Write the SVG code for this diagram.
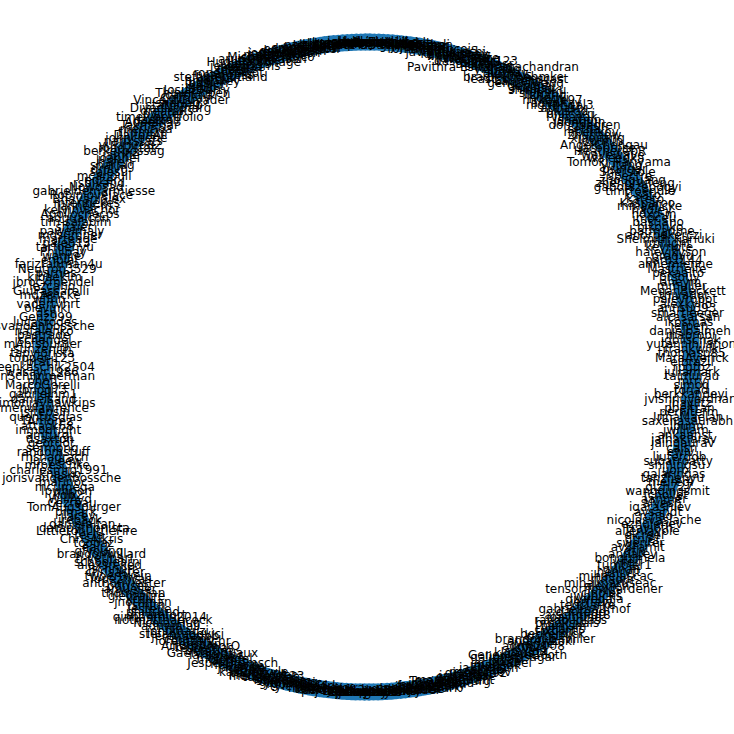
<svg xmlns="http://www.w3.org/2000/svg" width="734" height="734" viewBox="0 0 734 734">
<style>
text{font-family:"DejaVu Sans",sans-serif;font-size:12px;text-anchor:middle;dominant-baseline:central;fill:#000}
</style>
<rect width="734" height="734" fill="#fff"/>
<g id="connectors"></g>
<g id="node-markers">
<circle cx="367" cy="367" r="325" fill="none" stroke="#1f77b4" stroke-width="17.3" stroke-dasharray="0 4.5379" stroke-linecap="round"/>
</g>
<g id="nodes" transform="translate(367 367)">
<text id="n0" transform="rotate(0)translate(325)rotate(0)">rpgtoz</text>
<text id="n1" transform="rotate(-0.8)translate(325)rotate(0.8)">elbrazil</text>
<text id="n2" transform="rotate(-1.6)translate(325)rotate(1.6)">MaraAverick</text>
<text id="n3" transform="rotate(-2.4)translate(325)rotate(2.4)">thomasp85</text>
<text id="n4" transform="rotate(-3.2)translate(325)rotate(3.2)">frankwilk</text>
<text id="n5" transform="rotate(-4)translate(325)rotate(4)">yutannihilation</text>
<text id="n6" transform="rotate(-4.8)translate(325)rotate(4.8)">jdblischak</text>
<text id="n7" transform="rotate(-5.6)translate(325)rotate(5.6)">mabrobi</text>
<text id="n8" transform="rotate(-6.4)translate(325)rotate(6.4)">danielbalmeh</text>
<text id="n9" transform="rotate(-7.2)translate(325)rotate(7.2)">jeroen</text>
<text id="n10" transform="rotate(-8)translate(325)rotate(8)">ikosmas</text>
<text id="n11" transform="rotate(-8.8)translate(325)rotate(8.8)">alcasarsan</text>
<text id="n12" transform="rotate(-9.6)translate(325)rotate(9.6)">smartleeger</text>
<text id="n13" transform="rotate(-10.4)translate(325)rotate(10.4)">annsu393</text>
<text id="n14" transform="rotate(-11.2)translate(325)rotate(11.2)">alexkyllo</text>
<text id="n15" transform="rotate(-12)translate(325)rotate(12)">palevrobot</text>
<text id="n16" transform="rotate(-12.8)translate(325)rotate(12.8)">thivadot</text>
<text id="n17" transform="rotate(-13.6)translate(325)rotate(13.6)">MeganBeckett</text>
<text id="n18" transform="rotate(-14.4)translate(325)rotate(14.4)">mmuller</text>
<text id="n19" transform="rotate(-15.2)translate(325)rotate(15.2)">aheym</text>
<text id="n20" transform="rotate(-16)translate(325)rotate(16)">prsouy</text>
<text id="n21" transform="rotate(-16.8)translate(325)rotate(16.8)">pekaalto</text>
<text id="n22" transform="rotate(-17.6)translate(325)rotate(17.6)">Mastrielfe</text>
<text id="n23" transform="rotate(-18.4)translate(325)rotate(18.4)">annemienne</text>
<text id="n24" transform="rotate(-19.2)translate(325)rotate(19.2)">paru1144</text>
<text id="n25" transform="rotate(-20)translate(325)rotate(20)">pradyu</text>
<text id="n26" transform="rotate(-20.8)translate(325)rotate(20.8)">haleyjkyson</text>
<text id="n27" transform="rotate(-21.6)translate(325)rotate(21.6)">keynote</text>
<text id="n28" transform="rotate(-22.4)translate(325)rotate(22.4)">rmflight</text>
<text id="n29" transform="rotate(-23.2)translate(325)rotate(23.2)">Shelmith Kariuki</text>
<text id="n30" transform="rotate(-24)translate(325)rotate(24)">anorpekerczi</text>
<text id="n31" transform="rotate(-24.8)translate(325)rotate(24.8)">batmadme</text>
<text id="n32" transform="rotate(-25.6)translate(325)rotate(25.6)">bikonko</text>
<text id="n33" transform="rotate(-26.4)translate(325)rotate(26.4)">bastiano</text>
<text id="n34" transform="rotate(-27.2)translate(325)rotate(27.2)">moceu</text>
<text id="n35" transform="rotate(-28)translate(325)rotate(28)">hoxo-m</text>
<text id="n36" transform="rotate(-28.8)translate(325)rotate(28.8)">hadley</text>
<text id="n37" transform="rotate(-29.6)translate(325)rotate(29.6)">mmaelicke</text>
<text id="n38" transform="rotate(-30.4)translate(325)rotate(30.4)">Kasparoo</text>
<text id="n39" transform="rotate(-31.2)translate(325)rotate(31.2)">kateto</text>
<text id="n40" transform="rotate(-32)translate(325)rotate(32)">k-sato</text>
<text id="n41" transform="rotate(-32.8)translate(325)rotate(32.8)">timtroendle</text>
<text id="n42" transform="rotate(-33.6)translate(325)rotate(33.6)">gaborszepogyi</text>
<text id="n43" transform="rotate(-34.4)translate(325)rotate(34.4)">zhengruifeng</text>
<text id="n44" transform="rotate(-35.2)translate(325)rotate(35.2)">zhouguang</text>
<text id="n45" transform="rotate(-36)translate(325)rotate(36)">spectre</text>
<text id="n46" transform="rotate(-36.8)translate(325)rotate(36.8)">Sherstole</text>
<text id="n47" transform="rotate(-37.6)translate(325)rotate(37.6)">psinger</text>
<text id="n48" transform="rotate(-38.4)translate(325)rotate(38.4)">yutang</text>
<text id="n49" transform="rotate(-39.2)translate(325)rotate(39.2)">Tomoki Hariyama</text>
<text id="n50" transform="rotate(-40)translate(325)rotate(40)">waleedka</text>
<text id="n51" transform="rotate(-40.8)translate(325)rotate(40.8)">wavewave</text>
<text id="n52" transform="rotate(-41.6)translate(325)rotate(41.6)">HeatherCbR</text>
<text id="n53" transform="rotate(-42.4)translate(325)rotate(42.4)">jacobrose</text>
<text id="n54" transform="rotate(-43.2)translate(325)rotate(43.2)">AngelChengau</text>
<text id="n55" transform="rotate(-44)translate(325)rotate(44)">lopuhin</text>
<text id="n56" transform="rotate(-44.8)translate(325)rotate(44.8)">xiaojiang</text>
<text id="n57" transform="rotate(-45.6)translate(325)rotate(45.6)">zhuhaow</text>
<text id="n58" transform="rotate(-46.4)translate(325)rotate(46.4)">mpenkov</text>
<text id="n59" transform="rotate(-47.2)translate(325)rotate(47.2)">sethah</text>
<text id="n60" transform="rotate(-48)translate(325)rotate(48)">donghaoren</text>
<text id="n61" transform="rotate(-48.8)translate(325)rotate(48.8)">dongjun</text>
<text id="n62" transform="rotate(-49.6)translate(325)rotate(49.6)">jsnation</text>
<text id="n63" transform="rotate(-50.4)translate(325)rotate(50.4)">vinayak</text>
<text id="n64" transform="rotate(-51.2)translate(325)rotate(51.2)">philcarri</text>
<text id="n65" transform="rotate(-52)translate(325)rotate(52)">pluskid</text>
<text id="n66" transform="rotate(-52.8)translate(325)rotate(52.8)">abbaslx</text>
<text id="n67" transform="rotate(-53.6)translate(325)rotate(53.6)">nightingal3</text>
<text id="n68" transform="rotate(-54.4)translate(325)rotate(54.4)">advnkxy</text>
<text id="n69" transform="rotate(-55.2)translate(325)rotate(55.2)">mrkaye97</text>
<text id="n70" transform="rotate(-56)translate(325)rotate(56)">hongyi</text>
<text id="n71" transform="rotate(-56.8)translate(325)rotate(56.8)">lizhang</text>
<text id="n72" transform="rotate(-57.6)translate(325)rotate(57.6)">shinytu</text>
<text id="n73" transform="rotate(-58.4)translate(325)rotate(58.4)">shimpuku</text>
<text id="n74" transform="rotate(-59.2)translate(325)rotate(59.2)">niklasd</text>
<text id="n75" transform="rotate(-60)translate(325)rotate(60)">gengjia</text>
<text id="n76" transform="rotate(-60.8)translate(325)rotate(60.8)">gengjiawang</text>
<text id="n77" transform="rotate(-61.6)translate(325)rotate(61.6)">LaurentH</text>
<text id="n78" transform="rotate(-62.4)translate(325)rotate(62.4)">leastsquarescast</text>
<text id="n79" transform="rotate(-63.2)translate(325)rotate(63.2)">bradleyboehmke</text>
<text id="n80" transform="rotate(-64)translate(325)rotate(64)">jwijffels</text>
<text id="n81" transform="rotate(-64.8)translate(325)rotate(64.8)">tanmay</text>
<text id="n82" transform="rotate(-65.6)translate(325)rotate(65.6)">jinyu</text>
<text id="n83" transform="rotate(-66.4)translate(325)rotate(66.4)">ylzhang</text>
<text id="n84" transform="rotate(-67.2)translate(325)rotate(67.2)">Pavithra Eswaramachandran</text>
<text id="n85" transform="rotate(-68)translate(325)rotate(68)">sandrag</text>
<text id="n86" transform="rotate(-68.8)translate(325)rotate(68.8)">matthiasr</text>
<text id="n87" transform="rotate(-69.6)translate(325)rotate(69.6)">qiaoyu</text>
<text id="n88" transform="rotate(-70.4)translate(325)rotate(70.4)">dasguptar123</text>
<text id="n89" transform="rotate(-71.2)translate(325)rotate(71.2)">Weizhang</text>
<text id="n90" transform="rotate(-72)translate(325)rotate(72)">lunarwhite</text>
<text id="n91" transform="rotate(-72.8)translate(325)rotate(72.8)">jmbejara</text>
<text id="n92" transform="rotate(-73.6)translate(325)rotate(73.6)">ditandlesis</text>
<text id="n93" transform="rotate(-74.4)translate(325)rotate(74.4)">kevinushey</text>
<text id="n94" transform="rotate(-75.2)translate(325)rotate(75.2)">jjallaire</text>
<text id="n95" transform="rotate(-76)translate(325)rotate(76)">javierluraschi</text>
<text id="n96" transform="rotate(-76.8)translate(325)rotate(76.8)">yihui</text>
<text id="n97" transform="rotate(-77.6)translate(325)rotate(77.6)">cderv</text>
<text id="n98" transform="rotate(-78.4)translate(325)rotate(78.4)">romainfrancois</text>
<text id="n99" transform="rotate(-79.2)translate(325)rotate(79.2)">krlmlr</text>
<text id="n100" transform="rotate(-80)translate(325)rotate(80)">jennybc</text>
<text id="n101" transform="rotate(-80.8)translate(325)rotate(80.8)">jimhester</text>
<text id="n102" transform="rotate(-81.6)translate(325)rotate(81.6)">gaborcsardi</text>
<text id="n103" transform="rotate(-82.4)translate(325)rotate(82.4)">DavisVaughan</text>
<text id="n104" transform="rotate(-83.2)translate(325)rotate(83.2)">lionel-</text>
<text id="n105" transform="rotate(-84)translate(325)rotate(84)">topepo</text>
<text id="n106" transform="rotate(-84.8)translate(325)rotate(84.8)">juliasilge</text>
<text id="n107" transform="rotate(-85.6)translate(325)rotate(85.6)">EmilHvitfeldt</text>
<text id="n108" transform="rotate(-86.4)translate(325)rotate(86.4)">mine-cetinkaya</text>
<text id="n109" transform="rotate(-87.2)translate(325)rotate(87.2)">apreshill</text>
<text id="n110" transform="rotate(-88)translate(325)rotate(88)">batpigandme</text>
<text id="n111" transform="rotate(-88.8)translate(325)rotate(88.8)">dgrtwo</text>
<text id="n112" transform="rotate(-89.6)translate(325)rotate(89.6)">hrbrmstr</text>
<text id="n113" transform="rotate(-90.4)translate(325)rotate(90.4)">cpsievert</text>
<text id="n114" transform="rotate(-91.2)translate(325)rotate(91.2)">schloerke</text>
<text id="n115" transform="rotate(-92)translate(325)rotate(92)">wch</text>
<text id="n116" transform="rotate(-92.8)translate(325)rotate(92.8)">jcheng5</text>
<text id="n117" transform="rotate(-93.6)translate(325)rotate(93.6)">trestletech</text>
<text id="n118" transform="rotate(-94.4)translate(325)rotate(94.4)">yutannihil</text>
<text id="n119" transform="rotate(-95.2)translate(325)rotate(95.2)">karawoo</text>
<text id="n120" transform="rotate(-96)translate(325)rotate(96)">clauswilke</text>
<text id="n121" transform="rotate(-96.8)translate(325)rotate(96.8)">thomasp</text>
<text id="n122" transform="rotate(-97.6)translate(325)rotate(97.6)">teunbrand</text>
<text id="n123" transform="rotate(-98.4)translate(325)rotate(98.4)">paleolimbot</text>
<text id="n124" transform="rotate(-99.2)translate(325)rotate(99.2)">stragu</text>
<text id="n125" transform="rotate(-100)translate(325)rotate(100)">mikmart</text>
<text id="n126" transform="rotate(-100.8)translate(325)rotate(100.8)">smouksassi</text>
<text id="n127" transform="rotate(-101.6)translate(325)rotate(101.6)">eddelbuettel</text>
<text id="n128" transform="rotate(-102.4)translate(325)rotate(102.4)">coatless</text>
<text id="n129" transform="rotate(-103.2)translate(325)rotate(103.2)">davidpham</text>
<text id="n130" transform="rotate(-104)translate(325)rotate(104)">gvegayon</text>
<text id="n131" transform="rotate(-104.8)translate(325)rotate(104.8)">joshuaulrich</text>
<text id="n132" transform="rotate(-105.6)translate(325)rotate(105.6)">jangorecki</text>
<text id="n133" transform="rotate(-106.4)translate(325)rotate(106.4)">mattdowle</text>
<text id="n134" transform="rotate(-107.2)translate(325)rotate(107.2)">MichaelChirico</text>
<text id="n135" transform="rotate(-108)translate(325)rotate(108)">st-pasha</text>
<text id="n136" transform="rotate(-108.8)translate(325)rotate(108.8)">arunsrinivasan</text>
<text id="n137" transform="rotate(-109.6)translate(325)rotate(109.6)">tdhock</text>
<text id="n138" transform="rotate(-110.4)translate(325)rotate(110.4)">HughParsonage</text>
<text id="n139" transform="rotate(-111.2)translate(325)rotate(111.2)">ben519</text>
<text id="n140" transform="rotate(-112)translate(325)rotate(112)">jeroenooms</text>
<text id="n141" transform="rotate(-112.8)translate(325)rotate(112.8)">alegria</text>
<text id="n142" transform="rotate(-113.6)translate(325)rotate(113.6)">maelle</text>
<text id="n143" transform="rotate(-114.4)translate(325)rotate(114.4)">sckott</text>
<text id="n144" transform="rotate(-115.2)translate(325)rotate(115.2)">ropenscibot</text>
<text id="n145" transform="rotate(-116)translate(325)rotate(116)">noamross</text>
<text id="n146" transform="rotate(-116.8)translate(325)rotate(116.8)">stefaniebutland</text>
<text id="n147" transform="rotate(-117.6)translate(325)rotate(117.6)">karthik</text>
<text id="n148" transform="rotate(-118.4)translate(325)rotate(118.4)">bryanxey</text>
<text id="n149" transform="rotate(-119.2)translate(325)rotate(119.2)">bdsieh</text>
<text id="n150" transform="rotate(-120)translate(325)rotate(120)">jhollist</text>
<text id="n151" transform="rotate(-120.8)translate(325)rotate(120.8)">rstub</text>
<text id="n152" transform="rotate(-121.6)translate(325)rotate(121.6)">JosiahParry</text>
<text id="n153" transform="rotate(-122.4)translate(325)rotate(122.4)">ThinkR-open</text>
<text id="n154" transform="rotate(-123.2)translate(325)rotate(123.2)">carolina</text>
<text id="n155" transform="rotate(-124)translate(325)rotate(124)">ColinFay</text>
<text id="n156" transform="rotate(-124.8)translate(325)rotate(124.8)">VincentGuyader</text>
<text id="n157" transform="rotate(-125.6)translate(325)rotate(125.6)">sharlaq</text>
<text id="n158" transform="rotate(-126.4)translate(325)rotate(126.4)">statnmap</text>
<text id="n159" transform="rotate(-127.2)translate(325)rotate(127.2)">DivadNojnarg</text>
<text id="n160" transform="rotate(-128)translate(325)rotate(128)">dreamRs</text>
<text id="n161" transform="rotate(-128.8)translate(325)rotate(128.8)">pvictor</text>
<text id="n162" transform="rotate(-129.6)translate(325)rotate(129.6)">timelyportfolio</text>
<text id="n163" transform="rotate(-130.4)translate(325)rotate(130.4)">daattali</text>
<text id="n164" transform="rotate(-131.2)translate(325)rotate(131.2)">AdeelK93</text>
<text id="n165" transform="rotate(-132)translate(325)rotate(132)">Takmedar</text>
<text id="n166" transform="rotate(-132.8)translate(325)rotate(132.8)">merlinoa</text>
<text id="n167" transform="rotate(-133.6)translate(325)rotate(133.6)">timmsm</text>
<text id="n168" transform="rotate(-134.4)translate(325)rotate(134.4)">DaltonAt</text>
<text id="n169" transform="rotate(-135.2)translate(325)rotate(135.2)">johncoene</text>
<text id="n170" transform="rotate(-136)translate(325)rotate(136)">nanxstats</text>
<text id="n171" transform="rotate(-136.8)translate(325)rotate(136.8)">yukihiro82</text>
<text id="n172" transform="rotate(-137.6)translate(325)rotate(137.6)">road2stat</text>
<text id="n173" transform="rotate(-138.4)translate(325)rotate(138.4)">berkerpossag</text>
<text id="n174" transform="rotate(-139.2)translate(325)rotate(139.2)">jamhe</text>
<text id="n175" transform="rotate(-140)translate(325)rotate(140)">joanhel</text>
<text id="n176" transform="rotate(-140.8)translate(325)rotate(140.8)">hafen</text>
<text id="n177" transform="rotate(-141.6)translate(325)rotate(141.6)">sharlag</text>
<text id="n178" transform="rotate(-142.4)translate(325)rotate(142.4)">dmlvg</text>
<text id="n179" transform="rotate(-143.2)translate(325)rotate(143.2)">salesl</text>
<text id="n180" transform="rotate(-144)translate(325)rotate(144)">mcanouil</text>
<text id="n181" transform="rotate(-144.8)translate(325)rotate(144.8)">edzer</text>
<text id="n182" transform="rotate(-145.6)translate(325)rotate(145.6)">rsbivand</text>
<text id="n183" transform="rotate(-146.4)translate(325)rotate(146.4)">Nowosad</text>
<text id="n184" transform="rotate(-147.2)translate(325)rotate(147.2)">gabrieldemarmiesse</text>
<text id="n185" transform="rotate(-148)translate(325)rotate(148)">Robinlovelace</text>
<text id="n186" transform="rotate(-148.8)translate(325)rotate(148.8)">Bhavanialex</text>
<text id="n187" transform="rotate(-149.6)translate(325)rotate(149.6)">mtennekes</text>
<text id="n188" transform="rotate(-150.4)translate(325)rotate(150.4)">jannes-m</text>
<text id="n189" transform="rotate(-151.2)translate(325)rotate(151.2)">kelvinvachor</text>
<text id="n190" transform="rotate(-152)translate(325)rotate(152)">Apollochecos</text>
<text id="n191" transform="rotate(-152.8)translate(325)rotate(152.8)">adgualcon</text>
<text id="n192" transform="rotate(-153.6)translate(325)rotate(153.6)">tim-salabim</text>
<text id="n193" transform="rotate(-154.4)translate(325)rotate(154.4)">shaier</text>
<text id="n194" transform="rotate(-155.2)translate(325)rotate(155.2)">pawelmaly</text>
<text id="n195" transform="rotate(-156)translate(325)rotate(156)">mdsumner</text>
<text id="n196" transform="rotate(-156.8)translate(325)rotate(156.8)">marteage</text>
<text id="n197" transform="rotate(-157.6)translate(325)rotate(157.6)">paleo13</text>
<text id="n198" transform="rotate(-158.4)translate(325)rotate(158.4)">tarfoenyu</text>
<text id="n199" transform="rotate(-159.2)translate(325)rotate(159.2)">Phillpay</text>
<text id="n200" transform="rotate(-160)translate(325)rotate(160)">wanjie</text>
<text id="n201" transform="rotate(-160.8)translate(325)rotate(160.8)">enpiar</text>
<text id="n202" transform="rotate(-161.6)translate(325)rotate(161.6)">farizrahman4u</text>
<text id="n203" transform="rotate(-162.4)translate(325)rotate(162.4)">Neutron3529</text>
<text id="n204" transform="rotate(-163.2)translate(325)rotate(163.2)">parnes</text>
<text id="n205" transform="rotate(-164)translate(325)rotate(164)">kibaekim</text>
<text id="n206" transform="rotate(-164.8)translate(325)rotate(164.8)">jbrockmendel</text>
<text id="n207" transform="rotate(-165.6)translate(325)rotate(165.6)">lezcano</text>
<text id="n208" transform="rotate(-166.4)translate(325)rotate(166.4)">GiuPassarelli</text>
<text id="n209" transform="rotate(-167.2)translate(325)rotate(167.2)">mdzehcke</text>
<text id="n210" transform="rotate(-168)translate(325)rotate(168)">wfinn</text>
<text id="n211" transform="rotate(-168.8)translate(325)rotate(168.8)">vadertvhrt</text>
<text id="n212" transform="rotate(-169.6)translate(325)rotate(169.6)">olevinki</text>
<text id="n213" transform="rotate(-170.4)translate(325)rotate(170.4)">dsn</text>
<text id="n214" transform="rotate(-171.2)translate(325)rotate(171.2)">Genz999</text>
<text id="n215" transform="rotate(-172)translate(325)rotate(172)">lucasrodes</text>
<text id="n216" transform="rotate(-172.8)translate(325)rotate(172.8)">svandenbossche</text>
<text id="n217" transform="rotate(-173.6)translate(325)rotate(173.6)">natalenko</text>
<text id="n218" transform="rotate(-174.4)translate(325)rotate(174.4)">bastrade</text>
<text id="n219" transform="rotate(-175.2)translate(325)rotate(175.2)">jschendel</text>
<text id="n220" transform="rotate(-176)translate(325)rotate(176)">mAbfsburger</text>
<text id="n221" transform="rotate(-176.8)translate(325)rotate(176.8)">sunzenith</text>
<text id="n222" transform="rotate(-177.6)translate(325)rotate(177.6)">tapyiorista</text>
<text id="n223" transform="rotate(-178.4)translate(325)rotate(178.4)">topper-123</text>
<text id="n224" transform="rotate(-179.2)translate(325)rotate(179.2)">prath</text>
<text id="n225" transform="rotate(-180)translate(325)rotate(180)">jreenkaschik2504</text>
<text id="n226" transform="rotate(-180.8)translate(325)rotate(180.8)">wasayr1986</text>
<text id="n227" transform="rotate(-181.6)translate(325)rotate(181.6)">JanSchimmerman</text>
<text id="n228" transform="rotate(-182.4)translate(325)rotate(182.4)">phofl</text>
<text id="n229" transform="rotate(-183.2)translate(325)rotate(183.2)">MarcoGorelli</text>
<text id="n230" transform="rotate(-184)translate(325)rotate(184)">jbnog73</text>
<text id="n231" transform="rotate(-184.8)translate(325)rotate(184.8)">gabrielhm1</text>
<text id="n232" transform="rotate(-185.6)translate(325)rotate(185.6)">danielsand</text>
<text id="n233" transform="rotate(-186.4)translate(325)rotate(186.4)">simonjayhawkins</text>
<text id="n234" transform="rotate(-187.2)translate(325)rotate(187.2)">menulawrence</text>
<text id="n235" transform="rotate(-188)translate(325)rotate(188)">jsitepsin</text>
<text id="n236" transform="rotate(-188.8)translate(325)rotate(188.8)">quantusdias</text>
<text id="n237" transform="rotate(-189.6)translate(325)rotate(189.6)">TAmorez</text>
<text id="n238" transform="rotate(-190.4)translate(325)rotate(190.4)">attack68</text>
<text id="n239" transform="rotate(-191.2)translate(325)rotate(191.2)">inmodright</text>
<text id="n240" transform="rotate(-192)translate(325)rotate(192)">amturgi</text>
<text id="n241" transform="rotate(-192.8)translate(325)rotate(192.8)">dsaxton</text>
<text id="n242" transform="rotate(-193.6)translate(325)rotate(193.6)">geordot</text>
<text id="n243" transform="rotate(-194.4)translate(325)rotate(194.4)">sermong</text>
<text id="n244" transform="rotate(-195.2)translate(325)rotate(195.2)">randomstuff</text>
<text id="n245" transform="rotate(-196)translate(325)rotate(196)">rhshadrach</text>
<text id="n246" transform="rotate(-196.8)translate(325)rotate(196.8)">lucyleew</text>
<text id="n247" transform="rotate(-197.6)translate(325)rotate(197.6)">mroeschke</text>
<text id="n248" transform="rotate(-198.4)translate(325)rotate(198.4)">charlesmrg1991</text>
<text id="n249" transform="rotate(-199.2)translate(325)rotate(199.2)">knasko</text>
<text id="n250" transform="rotate(-200)translate(325)rotate(200)">jorisvandenbossche</text>
<text id="n251" transform="rotate(-200.8)translate(325)rotate(200.8)">marinoc</text>
<text id="n252" transform="rotate(-201.6)translate(325)rotate(201.6)">mcumega</text>
<text id="n253" transform="rotate(-202.4)translate(325)rotate(202.4)">lpwhpon</text>
<text id="n254" transform="rotate(-203.2)translate(325)rotate(203.2)">kdb2</text>
<text id="n255" transform="rotate(-204)translate(325)rotate(204)">WillAyd</text>
<text id="n256" transform="rotate(-204.8)translate(325)rotate(204.8)">Cezreau</text>
<text id="n257" transform="rotate(-205.6)translate(325)rotate(205.6)">TomAugspurger</text>
<text id="n258" transform="rotate(-206.4)translate(325)rotate(206.4)">pimark</text>
<text id="n259" transform="rotate(-207.2)translate(325)rotate(207.2)">jlacey</text>
<text id="n260" transform="rotate(-208)translate(325)rotate(208)">jreback</text>
<text id="n261" transform="rotate(-208.8)translate(325)rotate(208.8)">danielalfan</text>
<text id="n262" transform="rotate(-209.6)translate(325)rotate(209.6)">datapythonista</text>
<text id="n263" transform="rotate(-210.4)translate(325)rotate(210.4)">LittletonLittleFire</text>
<text id="n264" transform="rotate(-211.2)translate(325)rotate(211.2)">tecla</text>
<text id="n265" transform="rotate(-212)translate(325)rotate(212)">ChrisAlkris</text>
<text id="n266" transform="rotate(-212.8)translate(325)rotate(212.8)">toobaz</text>
<text id="n267" transform="rotate(-213.6)translate(325)rotate(213.6)">eali2</text>
<text id="n268" transform="rotate(-214.4)translate(325)rotate(214.4)">gfyoung</text>
<text id="n269" transform="rotate(-215.2)translate(325)rotate(215.2)">brandonwillard</text>
<text id="n270" transform="rotate(-216)translate(325)rotate(216)">h-vetinari</text>
<text id="n271" transform="rotate(-216.8)translate(325)rotate(216.8)">schoolearn</text>
<text id="n272" transform="rotate(-217.6)translate(325)rotate(217.6)">alexsreked</text>
<text id="n273" transform="rotate(-218.4)translate(325)rotate(218.4)">jschnurr</text>
<text id="n274" transform="rotate(-219.2)translate(325)rotate(219.2)">chrisaster</text>
<text id="n275" transform="rotate(-220)translate(325)rotate(220)">twoertwein</text>
<text id="n276" transform="rotate(-220.8)translate(325)rotate(220.8)">lopezrivas</text>
<text id="n277" transform="rotate(-221.6)translate(325)rotate(221.6)">anthonylester</text>
<text id="n278" transform="rotate(-222.4)translate(325)rotate(222.4)">ogrisel</text>
<text id="n279" transform="rotate(-223.2)translate(325)rotate(223.2)">amueller</text>
<text id="n280" transform="rotate(-224)translate(325)rotate(224)">thomasfan</text>
<text id="n281" transform="rotate(-224.8)translate(325)rotate(224.8)">glemaitre</text>
<text id="n282" transform="rotate(-225.6)translate(325)rotate(225.6)">xcliu</text>
<text id="n283" transform="rotate(-226.4)translate(325)rotate(226.4)">jnothman</text>
<text id="n284" transform="rotate(-227.2)translate(325)rotate(227.2)">rsmith</text>
<text id="n285" transform="rotate(-228)translate(325)rotate(228)">lesteve</text>
<text id="n286" transform="rotate(-228.8)translate(325)rotate(228.8)">philfrund</text>
<text id="n287" transform="rotate(-229.6)translate(325)rotate(229.6)">agramfort</text>
<text id="n288" transform="rotate(-230.4)translate(325)rotate(230.4)">qinhanmin2014</text>
<text id="n289" transform="rotate(-231.2)translate(325)rotate(231.2)">notmatthancock</text>
<text id="n290" transform="rotate(-232)translate(325)rotate(232)">NicolasHug</text>
<text id="n291" transform="rotate(-232.8)translate(325)rotate(232.8)">adrinjalali</text>
<text id="n292" transform="rotate(-233.6)translate(325)rotate(233.6)">rth</text>
<text id="n293" transform="rotate(-234.4)translate(325)rotate(234.4)">johnmauzi</text>
<text id="n294" transform="rotate(-235.2)translate(325)rotate(235.2)">stefanradovici</text>
<text id="n295" transform="rotate(-236)translate(325)rotate(236)">jeremiedbb</text>
<text id="n296" transform="rotate(-236.8)translate(325)rotate(236.8)">cmarmo</text>
<text id="n297" transform="rotate(-237.6)translate(325)rotate(237.6)">lorentzenchr</text>
<text id="n298" transform="rotate(-238.4)translate(325)rotate(238.4)">jjerphan</text>
<text id="n299" transform="rotate(-239.2)translate(325)rotate(239.2)">ArturoAmorQ</text>
<text id="n300" transform="rotate(-240)translate(325)rotate(240)">reshamas</text>
<text id="n301" transform="rotate(-240.8)translate(325)rotate(240.8)">betatim</text>
<text id="n302" transform="rotate(-241.6)translate(325)rotate(241.6)">GaelVaroquaux</text>
<text id="n303" transform="rotate(-242.4)translate(325)rotate(242.4)">larsmans</text>
<text id="n304" transform="rotate(-243.2)translate(325)rotate(243.2)">vene</text>
<text id="n305" transform="rotate(-244)translate(325)rotate(244)">mblondel</text>
<text id="n306" transform="rotate(-244.8)translate(325)rotate(244.8)">pprett</text>
<text id="n307" transform="rotate(-245.6)translate(325)rotate(245.6)">JesperDramsch</text>
<text id="n308" transform="rotate(-246.4)translate(325)rotate(246.4)">fabianp</text>
<text id="n309" transform="rotate(-247.2)translate(325)rotate(247.2)">jakevdp</text>
<text id="n310" transform="rotate(-248)translate(325)rotate(248)">ndawe</text>
<text id="n311" transform="rotate(-248.8)translate(325)rotate(248.8)">arjoly</text>
<text id="n312" transform="rotate(-249.6)translate(325)rotate(249.6)">kastnerkyle</text>
<text id="n313" transform="rotate(-250.4)translate(325)rotate(250.4)">raghavrv</text>
<text id="n314" transform="rotate(-251.2)translate(325)rotate(251.2)">MechCoder</text>
<text id="n315" transform="rotate(-252)translate(325)rotate(252)">maniteja123</text>
<text id="n316" transform="rotate(-252.8)translate(325)rotate(252.8)">tdescides</text>
<text id="n317" transform="rotate(-253.6)translate(325)rotate(253.6)">ekhyosi</text>
<text id="n318" transform="rotate(-254.4)translate(325)rotate(254.4)">kdykstra</text>
<text id="n319" transform="rotate(-255.2)translate(325)rotate(255.2)">shmuelm</text>
<text id="n320" transform="rotate(-256)translate(325)rotate(256)">gkeyoung</text>
<text id="n321" transform="rotate(-256.8)translate(325)rotate(256.8)">yarikoptic</text>
<text id="n322" transform="rotate(-257.6)translate(325)rotate(257.6)">rgommers</text>
<text id="n323" transform="rotate(-258.4)translate(325)rotate(258.4)">pv</text>
<text id="n324" transform="rotate(-259.2)translate(325)rotate(259.2)">tylerjereddy</text>
<text id="n325" transform="rotate(-260)translate(325)rotate(260)">ilayn</text>
<text id="n326" transform="rotate(-260.8)translate(325)rotate(260.8)">mdhaber</text>
<text id="n327" transform="rotate(-261.6)translate(325)rotate(261.6)">larsoner</text>
<text id="n328" transform="rotate(-262.4)translate(325)rotate(262.4)">ev-br</text>
<text id="n329" transform="rotate(-263.2)translate(325)rotate(263.2)">andyfaff</text>
<text id="n330" transform="rotate(-264)translate(325)rotate(264)">person142</text>
<text id="n331" transform="rotate(-264.8)translate(325)rotate(264.8)">tupui</text>
<text id="n332" transform="rotate(-265.6)translate(325)rotate(265.6)">j-bowhay</text>
<text id="n333" transform="rotate(-266.4)translate(325)rotate(266.4)">mattip</text>
<text id="n334" transform="rotate(-267.2)translate(325)rotate(267.2)">seberg</text>
<text id="n335" transform="rotate(-268)translate(325)rotate(268)">charris</text>
<text id="n336" transform="rotate(-268.8)translate(325)rotate(268.8)">eric-wieser</text>
<text id="n337" transform="rotate(-269.6)translate(325)rotate(269.6)">jaimefrio</text>
<text id="n338" transform="rotate(-270.4)translate(325)rotate(270.4)">juliantaylor</text>
<text id="n339" transform="rotate(-271.2)translate(325)rotate(271.2)">ahaldane</text>
<text id="n340" transform="rotate(-272)translate(325)rotate(272)">njsmith</text>
<text id="n341" transform="rotate(-272.8)translate(325)rotate(272.8)">shoyer</text>
<text id="n342" transform="rotate(-273.6)translate(325)rotate(273.6)">dcherian</text>
<text id="n343" transform="rotate(-274.4)translate(325)rotate(274.4)">max-sixty</text>
<text id="n344" transform="rotate(-275.2)translate(325)rotate(275.2)">keewis</text>
<text id="n345" transform="rotate(-276)translate(325)rotate(276)">kmuehlbauer</text>
<text id="n346" transform="rotate(-276.8)translate(325)rotate(276.8)">Illviljan</text>
<text id="n347" transform="rotate(-277.6)translate(325)rotate(277.6)">headtr1ck</text>
<text id="n348" transform="rotate(-278.4)translate(325)rotate(278.4)">mathause</text>
<text id="n349" transform="rotate(-279.2)translate(325)rotate(279.2)">spencerkclark</text>
<text id="n350" transform="rotate(-280)translate(325)rotate(280)">jhamman</text>
<text id="n351" transform="rotate(-280.8)translate(325)rotate(280.8)">fmaussion</text>
<text id="n352" transform="rotate(-281.6)translate(325)rotate(281.6)">crusaderky</text>
<text id="n353" transform="rotate(-282.4)translate(325)rotate(282.4)">mrocklin</text>
<text id="n354" transform="rotate(-283.2)translate(325)rotate(283.2)">jrbourbeau</text>
<text id="n355" transform="rotate(-284)translate(325)rotate(284)">jcrist</text>
<text id="n356" transform="rotate(-284.8)translate(325)rotate(284.8)">TomAugspurg</text>
<text id="n357" transform="rotate(-285.6)translate(325)rotate(285.6)">martindurant</text>
<text id="n358" transform="rotate(-286.4)translate(325)rotate(286.4)">jsignell</text>
<text id="n359" transform="rotate(-287.2)translate(325)rotate(287.2)">quasiben</text>
<text id="n360" transform="rotate(-288)translate(325)rotate(288)">ian-r-rose</text>
<text id="n361" transform="rotate(-288.8)translate(325)rotate(288.8)">fjetter</text>
<text id="n362" transform="rotate(-289.6)translate(325)rotate(289.6)">gjoseph92</text>
<text id="n363" transform="rotate(-290.4)translate(325)rotate(290.4)">pentschev</text>
<text id="n364" transform="rotate(-291.2)translate(325)rotate(291.2)">sahjab</text>
<text id="n365" transform="rotate(-292)translate(325)rotate(292)">jakirkham</text>
<text id="n366" transform="rotate(-292.8)translate(325)rotate(292.8)">jkeaz</text>
<text id="n367" transform="rotate(-293.6)translate(325)rotate(293.6)">madsbk</text>
<text id="n368" transform="rotate(-294.4)translate(325)rotate(294.4)">jaclynabel</text>
<text id="n369" transform="rotate(-295.2)translate(325)rotate(295.2)">bdice</text>
<text id="n370" transform="rotate(-296)translate(325)rotate(296)">vyasr</text>
<text id="n371" transform="rotate(-296.8)translate(325)rotate(296.8)">galipremsagar</text>
<text id="n372" transform="rotate(-297.6)translate(325)rotate(297.6)">GenevieveBooth</text>
<text id="n373" transform="rotate(-298.4)translate(325)rotate(298.4)">kkraus14</text>
<text id="n374" transform="rotate(-299.2)translate(325)rotate(299.2)">shwina</text>
<text id="n375" transform="rotate(-300)translate(325)rotate(300)">isVoid</text>
<text id="n376" transform="rotate(-300.8)translate(325)rotate(300.8)">adnw2008</text>
<text id="n377" transform="rotate(-301.6)translate(325)rotate(301.6)">wence-</text>
<text id="n378" transform="rotate(-302.4)translate(325)rotate(302.4)">andrewsoki</text>
<text id="n379" transform="rotate(-303.2)translate(325)rotate(303.2)">brandon-b-miller</text>
<text id="n380" transform="rotate(-304)translate(325)rotate(304)">kryndey</text>
<text id="n381" transform="rotate(-304.8)translate(325)rotate(304.8)">beckernick</text>
<text id="n382" transform="rotate(-305.6)translate(325)rotate(305.6)">trxcllnt</text>
<text id="n383" transform="rotate(-306.4)translate(325)rotate(306.4)">cwharris</text>
<text id="n384" transform="rotate(-307.2)translate(325)rotate(307.2)">harrism</text>
<text id="n385" transform="rotate(-308)translate(325)rotate(308)">brooksvals</text>
<text id="n386" transform="rotate(-308.8)translate(325)rotate(308.8)">raydouglass</text>
<text id="n387" transform="rotate(-309.6)translate(325)rotate(309.6)">joayoung</text>
<text id="n388" transform="rotate(-310.4)translate(325)rotate(310.4)">ajschmidt8</text>
<text id="n389" transform="rotate(-311.2)translate(325)rotate(311.2)">dantegd</text>
<text id="n390" transform="rotate(-312)translate(325)rotate(312)">gabrielmaurhof</text>
<text id="n391" transform="rotate(-312.8)translate(325)rotate(312.8)">tedclarke</text>
<text id="n392" transform="rotate(-313.6)translate(325)rotate(313.6)">jerfrew</text>
<text id="n393" transform="rotate(-314.4)translate(325)rotate(314.4)">divyegala</text>
<text id="n394" transform="rotate(-315.2)translate(325)rotate(315.2)">wphicks</text>
<text id="n395" transform="rotate(-316)translate(325)rotate(316)">cjnolet</text>
<text id="n396" transform="rotate(-316.8)translate(325)rotate(316.8)">tensorflowgardener</text>
<text id="n397" transform="rotate(-317.6)translate(325)rotate(317.6)">alexreh</text>
<text id="n398" transform="rotate(-318.4)translate(325)rotate(318.4)">mihaimaruseac</text>
<text id="n399" transform="rotate(-319.2)translate(325)rotate(319.2)">rthadur</text>
<text id="n400" transform="rotate(-320)translate(325)rotate(320)">mihaelascac</text>
<text id="n401" transform="rotate(-320.8)translate(325)rotate(320.8)">henrytt</text>
<text id="n402" transform="rotate(-321.6)translate(325)rotate(321.6)">gunan</text>
<text id="n403" transform="rotate(-322.4)translate(325)rotate(322.4)">tumbler1</text>
<text id="n404" transform="rotate(-323.2)translate(325)rotate(323.2)">yifeif</text>
<text id="n405" transform="rotate(-324)translate(325)rotate(324)">bonquimela</text>
<text id="n406" transform="rotate(-324.8)translate(325)rotate(324.8)">annarev</text>
<text id="n407" transform="rotate(-325.6)translate(325)rotate(325.6)">qtlv</text>
<text id="n408" transform="rotate(-326.4)translate(325)rotate(326.4)">av8ramit</text>
<text id="n409" transform="rotate(-327.2)translate(325)rotate(327.2)">swenrer</text>
<text id="n410" transform="rotate(-328)translate(325)rotate(328)">dtnier</text>
<text id="n411" transform="rotate(-328.8)translate(325)rotate(328.8)">elcreer</text>
<text id="n412" transform="rotate(-329.6)translate(325)rotate(329.6)">allenlavoie</text>
<text id="n413" transform="rotate(-330.4)translate(325)rotate(330.4)">travioth</text>
<text id="n414" transform="rotate(-331.2)translate(325)rotate(331.2)">ezhulenev</text>
<text id="n415" transform="rotate(-332)translate(325)rotate(332)">nicolasvaslache</text>
<text id="n416" transform="rotate(-332.8)translate(325)rotate(332.8)">rchao</text>
<text id="n417" transform="rotate(-333.6)translate(325)rotate(333.6)">avsandt</text>
<text id="n418" transform="rotate(-334.4)translate(325)rotate(334.4)">igarashlev</text>
<text id="n419" transform="rotate(-335.2)translate(325)rotate(335.2)">alvesh</text>
<text id="n420" transform="rotate(-336)translate(325)rotate(336)">aanmer</text>
<text id="n421" transform="rotate(-336.8)translate(325)rotate(336.8)">fchollet</text>
<text id="n422" transform="rotate(-337.6)translate(325)rotate(337.6)">wangqingsmit</text>
<text id="n423" transform="rotate(-338.4)translate(325)rotate(338.4)">qlzh727</text>
<text id="n424" transform="rotate(-339.2)translate(325)rotate(339.2)">meiregi</text>
<text id="n425" transform="rotate(-340)translate(325)rotate(340)">tanzhenyu</text>
<text id="n426" transform="rotate(-340.8)translate(325)rotate(340.8)">galaringas</text>
<text id="n427" transform="rotate(-341.6)translate(325)rotate(341.6)">uoro</text>
<text id="n428" transform="rotate(-342.4)translate(325)rotate(342.4)">shiningsu</text>
<text id="n429" transform="rotate(-343.2)translate(325)rotate(343.2)">subarroatty</text>
<text id="n430" transform="rotate(-344)translate(325)rotate(344)">liuterddb</text>
<text id="n431" transform="rotate(-344.8)translate(325)rotate(344.8)">ewiv</text>
<text id="n432" transform="rotate(-345.6)translate(325)rotate(345.6)">calsn</text>
<text id="n433" transform="rotate(-346.4)translate(325)rotate(346.4)">jaingaurav</text>
<text id="n434" transform="rotate(-347.2)translate(325)rotate(347.2)">jalhaklarav</text>
<text id="n435" transform="rotate(-348)translate(325)rotate(348)">ankaanst</text>
<text id="n436" transform="rotate(-348.8)translate(325)rotate(348.8)">jwilliam</text>
<text id="n437" transform="rotate(-349.6)translate(325)rotate(349.6)">lbunn</text>
<text id="n438" transform="rotate(-350.4)translate(325)rotate(350.4)">saxenasaurabh</text>
<text id="n439" transform="rotate(-351.2)translate(325)rotate(351.2)">IrinaMaelan</text>
<text id="n440" transform="rotate(-352)translate(325)rotate(352)">perniterm</text>
<text id="n441" transform="rotate(-352.8)translate(325)rotate(352.8)">pbeltran</text>
<text id="n442" transform="rotate(-353.6)translate(325)rotate(353.6)">jhaylitz</text>
<text id="n443" transform="rotate(-354.4)translate(325)rotate(354.4)">jvishnuvardhan</text>
<text id="n444" transform="rotate(-355.2)translate(325)rotate(355.2)">berkkandeyi</text>
<text id="n445" transform="rotate(-356)translate(325)rotate(356)">tonad</text>
<text id="n446" transform="rotate(-356.8)translate(325)rotate(356.8)">simod</text>
<text id="n447" transform="rotate(-357.6)translate(325)rotate(357.6)">mrry</text>
<text id="n448" transform="rotate(-358.4)translate(325)rotate(358.4)">taimurau</text>
<text id="n449" transform="rotate(-359.2)translate(325)rotate(359.2)">juliamark</text>
</g>
</svg>
